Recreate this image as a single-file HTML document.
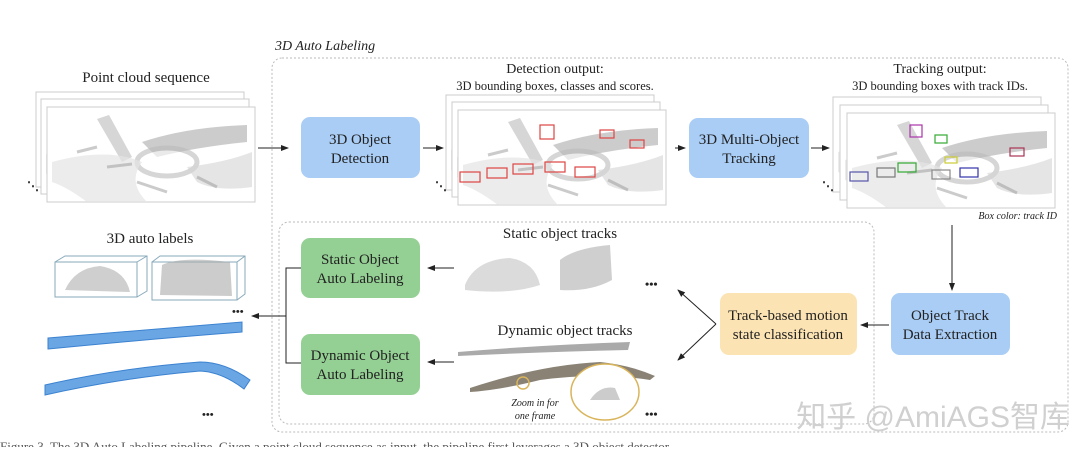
<!DOCTYPE html>
<html><head><meta charset="utf-8"><style>
body{margin:0;background:#fff;}
svg text{font-family:"Liberation Serif",serif;fill:#222;}
</style></head><body>
<svg width="1080" height="447" viewBox="0 0 1080 447" xmlns="http://www.w3.org/2000/svg">
<defs>
<marker id="ar" markerWidth="8" markerHeight="8" refX="7" refY="4" orient="auto" markerUnits="userSpaceOnUse"><path d="M0,1 L8,4 L0,7 z" fill="#222"/></marker>
<g id="pc">
 <path d="M0,0 h208 v95 h-208z" fill="#fff" stroke="#ccc"/>
 <path d="M50,12 L75,55 L85,50 L62,8z" fill="#bbb" opacity=".6"/>
 <path d="M95,35 Q140,20 200,18 L200,35 Q150,40 110,50z" fill="#999" opacity=".5"/>
 <ellipse cx="120" cy="55" rx="30" ry="14" fill="#fff" stroke="#bbb" stroke-width="5" opacity=".6"/>
 <path d="M5,55 Q60,40 95,55 Q80,75 100,95 L40,95 Q20,80 5,75z" fill="#e4e4e4" opacity=".7"/>
 <path d="M140,60 Q180,55 205,45 L205,80 Q170,85 150,75z" fill="#d4d4d4" opacity=".6"/>
 <path d="M30,45 l20,-5 M60,60 l25,-3 M90,75 l30,10 M150,70 l20,10" stroke="#999" stroke-width="3" opacity=".5"/>
</g>
</defs>

<text x="275" y="50" font-size="14" font-style="italic">3D Auto Labeling</text>
<rect x="272" y="58" width="796" height="374" rx="10" fill="none" stroke="#bbb" stroke-dasharray="2,2"/>
<rect x="279" y="222" width="595" height="202" rx="10" fill="none" stroke="#bbb" stroke-dasharray="2,2"/>

<text x="146" y="82" font-size="15" text-anchor="middle">Point cloud sequence</text>
<use href="#pc" x="36" y="92"/><use href="#pc" x="41" y="99"/><use href="#pc" x="47" y="107"/>
<text x="27" y="190" font-size="12" font-weight="bold">⋱</text>
<line x1="258" y1="148" x2="288" y2="148" stroke="#222" marker-end="url(#ar)"/>

<rect x="301" y="117" width="119" height="61" rx="9" fill="#a9cdf5"/>
<text x="360" y="144" font-size="15" text-anchor="middle">3D Object</text>
<text x="360" y="163" font-size="15" text-anchor="middle">Detection</text>
<line x1="423" y1="148" x2="443" y2="148" stroke="#222" marker-end="url(#ar)"/>

<text x="555" y="73" font-size="14" text-anchor="middle">Detection output:</text>
<text x="555" y="90" font-size="12.5" text-anchor="middle">3D bounding boxes, classes and scores.</text>
<use href="#pc" x="446" y="95"/><use href="#pc" x="452" y="102"/><use href="#pc" x="458" y="110"/>
<g fill="none" stroke="#d44" stroke-width="1.2">
<rect x="460" y="172" width="20" height="10"/><rect x="487" y="168" width="20" height="10"/><rect x="513" y="164" width="20" height="10"/><rect x="545" y="162" width="20" height="10"/><rect x="575" y="167" width="20" height="10"/>
<rect x="540" y="125" width="14" height="14"/><rect x="600" y="130" width="14" height="8"/><rect x="630" y="140" width="14" height="8"/>
</g>
<text x="435" y="190" font-size="12" font-weight="bold">⋱</text>
<line x1="675" y1="148" x2="685" y2="148" stroke="#222" marker-end="url(#ar)"/>

<rect x="689" y="118" width="120" height="60" rx="9" fill="#a9cdf5"/>
<text x="749" y="144" font-size="15" text-anchor="middle">3D Multi-Object</text>
<text x="749" y="163" font-size="15" text-anchor="middle">Tracking</text>
<line x1="811" y1="148" x2="829" y2="148" stroke="#222" marker-end="url(#ar)"/>

<text x="940" y="73" font-size="14" text-anchor="middle">Tracking output:</text>
<text x="940" y="90" font-size="12.5" text-anchor="middle">3D bounding boxes with track IDs.</text>
<use href="#pc" x="833" y="97"/><use href="#pc" x="840" y="105"/><use href="#pc" x="847" y="113"/>
<g fill="none" stroke-width="1.2">
<rect x="850" y="172" width="18" height="9" stroke="#55a"/><rect x="877" y="168" width="18" height="9" stroke="#777"/><rect x="898" y="163" width="18" height="9" stroke="#3a3"/><rect x="932" y="170" width="18" height="9" stroke="#888"/><rect x="960" y="168" width="18" height="9" stroke="#33a"/>
<rect x="910" y="125" width="12" height="12" stroke="#a3a"/><rect x="935" y="135" width="12" height="8" stroke="#3a3"/><rect x="1010" y="148" width="14" height="8" stroke="#a35"/><rect x="945" y="157" width="12" height="6" stroke="#cc3"/>
</g>
<text x="822" y="190" font-size="12" font-weight="bold">⋱</text>
<text x="1057" y="219" font-size="10" font-style="italic" text-anchor="end">Box color: track ID</text>

<line x1="952" y1="225" x2="952" y2="290" stroke="#222" marker-end="url(#ar)"/>
<rect x="891" y="293" width="119" height="62" rx="9" fill="#a9cdf5"/>
<text x="950" y="320" font-size="15" text-anchor="middle">Object Track</text>
<text x="950" y="339" font-size="15" text-anchor="middle">Data Extraction</text>
<line x1="889" y1="325" x2="861" y2="325" stroke="#222" marker-end="url(#ar)"/>

<rect x="720" y="293" width="137" height="62" rx="9" fill="#fce3b3"/>
<text x="788" y="320" font-size="15" text-anchor="middle">Track-based motion</text>
<text x="788" y="339" font-size="15" text-anchor="middle">state classification</text>
<line x1="716" y1="324" x2="678" y2="290" stroke="#222" marker-end="url(#ar)"/>
<line x1="716" y1="324" x2="678" y2="360" stroke="#222" marker-end="url(#ar)"/>

<text x="560" y="238" font-size="15" text-anchor="middle">Static object tracks</text>
<path d="M465,285 Q475,260 510,258 Q535,262 540,285 Q510,295 465,290z" fill="#ccc" opacity=".7"/>
<path d="M560,290 L560,260 Q575,248 610,245 L612,280 Q590,292 560,290z" fill="#bbb" opacity=".7"/>
<text x="645" y="288" font-size="12" font-weight="bold">•••</text>
<text x="565" y="335" font-size="15" text-anchor="middle">Dynamic object tracks</text>
<path d="M458,352 Q540,345 630,342 L628,350 Q540,352 458,356z" fill="#aaa"/>
<path d="M470,388 Q540,365 600,362 Q630,365 655,376 L650,380 Q600,372 540,380 Q500,390 470,392z" fill="#8a8275"/>
<ellipse cx="605" cy="392" rx="34" ry="28" fill="#fff" stroke="#d9b45a" stroke-width="1.5"/>
<path d="M590,400 Q600,385 615,388 L620,400z" fill="#ccc"/>
<circle cx="523" cy="383" r="6" fill="none" stroke="#d9b45a" stroke-width="1.5"/>
<text x="535" y="406" font-size="10" font-style="italic" text-anchor="middle">Zoom in for</text>
<text x="535" y="419" font-size="10" font-style="italic" text-anchor="middle">one frame</text>
<text x="645" y="418" font-size="12" font-weight="bold">•••</text>

<line x1="454" y1="268" x2="428" y2="268" stroke="#222" marker-end="url(#ar)"/>
<line x1="454" y1="362" x2="428" y2="362" stroke="#222" marker-end="url(#ar)"/>
<rect x="301" y="238" width="119" height="60" rx="9" fill="#94d093"/>
<text x="360" y="264" font-size="15" text-anchor="middle">Static Object</text>
<text x="360" y="283" font-size="15" text-anchor="middle">Auto Labeling</text>
<rect x="301" y="334" width="119" height="61" rx="9" fill="#94d093"/>
<text x="360" y="360" font-size="15" text-anchor="middle">Dynamic Object</text>
<text x="360" y="379" font-size="15" text-anchor="middle">Auto Labeling</text>
<polyline points="301,268 286,268 286,363 301,363" fill="none" stroke="#222"/>
<line x1="286" y1="316" x2="252" y2="316" stroke="#222" marker-end="url(#ar)"/>

<text x="150" y="243" font-size="15" text-anchor="middle">3D auto labels</text>
<g fill="none" stroke="#8ab" stroke-width="1">
<rect x="55" y="262" width="82" height="35"/><path d="M55,262 l10,-6 h82 v35 l-10,6 M137,262 l10,-6"/>
<rect x="152" y="262" width="85" height="38"/><path d="M152,262 l8,-6 h85 v38 l-8,6 M237,262 l8,-6"/>
</g>
<path d="M65,290 Q75,268 100,266 Q125,270 130,292z" fill="#bbb" opacity=".7"/>
<path d="M160,295 L162,265 Q180,256 230,262 L232,296z" fill="#aaa" opacity=".6"/>
<text x="232" y="315" font-size="11" font-weight="bold">•••</text>
<path d="M48,338 Q150,330 242,322 L242,332 Q150,339 48,349z" fill="#6aa6e4" stroke="#3b82d0" stroke-width="1"/>
<path d="M45,385 Q120,368 200,362 Q225,362 250,380 L244,389 Q222,372 200,371 Q120,378 45,395z" fill="#6aa6e4" stroke="#3b82d0" stroke-width="1"/>
<text x="202" y="418" font-size="11" font-weight="bold">•••</text>

<text x="1070" y="427" font-size="30" style="fill:#d0d0d0;font-family:'Liberation Sans','Noto Sans CJK SC',sans-serif" text-anchor="end">知乎 @AmiAGS智库</text>
<text x="0" y="451" font-size="13" style="fill:#555">Figure 3. The 3D Auto Labeling pipeline. Given a point cloud sequence as input, the pipeline first leverages a 3D object detector...</text>
</svg>
</body></html>
